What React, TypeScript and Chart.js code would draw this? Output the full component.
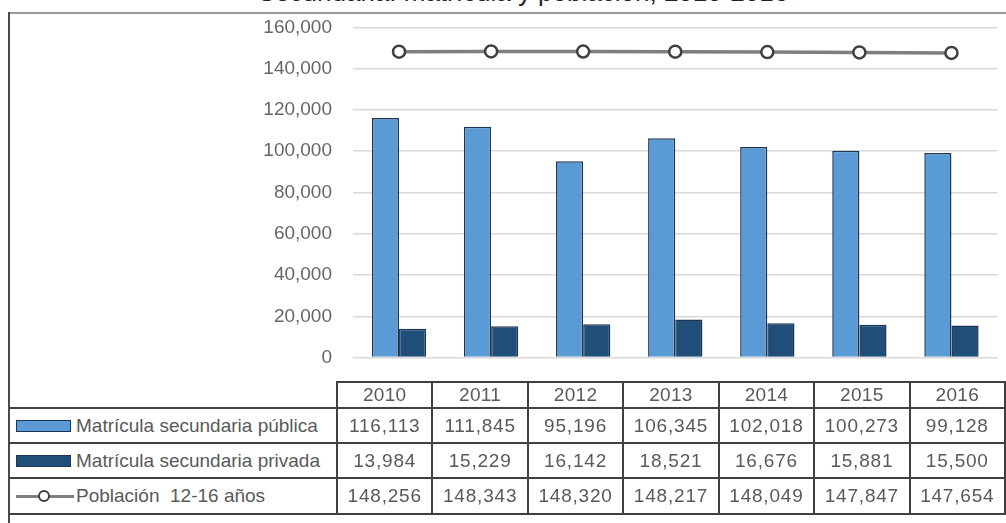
import React, { useEffect, useRef } from "react";
import { Chart, registerables } from "chart.js";

Chart.register(...registerables);

const years = ["2010", "2011", "2012", "2013", "2014", "2015", "2016"];
const publica = [116113, 111845, 95196, 106345, 102018, 100273, 99128];
const privada = [13984, 15229, 16142, 18521, 16676, 15881, 15500];
const poblacion = [148256, 148343, 148320, 148217, 148049, 147847, 147654];
const seriesLabels = [
  "Matrícula secundaria pública",
  "Matrícula secundaria privada",
  "Población  12-16 años",
];
const yMax = 160000;
const yStep = 20000;
const titleText = "Secundaria: matrícula y población, 2010-2016";

const C_PUB = "#5b9bd5";
const C_PRIV = "#1f4e79";
const C_BAR_BORDER = "#1d3553";
const C_LINE = "#7f7f7f";
const C_POINT = "#404040";
const FONT = "'Liberation Sans', Arial, sans-serif";
const TXT = "#595959";
const GRID_DARK = "#404040";

const fmt = (v: number) => v.toLocaleString("en-US");

export default function App() {
  const ref = useRef<HTMLCanvasElement>(null);

  useEffect(() => {
    const chart = new Chart(ref.current!, {
      type: "bar",
      data: {
        labels: years,
        datasets: [
          {
            type: "line" as const,
            label: seriesLabels[2],
            data: poblacion,
            borderColor: C_LINE,
            borderWidth: 3.5,
            tension: 0,
            pointRadius: 6,
            pointBackgroundColor: "#ffffff",
            pointBorderColor: C_POINT,
            pointBorderWidth: 2.5,
            order: 0,
          } as any,
          {
            label: seriesLabels[0],
            data: publica,
            backgroundColor: C_PUB,
            borderColor: C_BAR_BORDER,
            borderWidth: 1.5,
            categoryPercentage: 0.59,
            barPercentage: 1,
            order: 1,
          },
          {
            label: seriesLabels[1],
            data: privada,
            backgroundColor: C_PRIV,
            borderColor: C_BAR_BORDER,
            borderWidth: 1.5,
            categoryPercentage: 0.59,
            barPercentage: 1,
            order: 1,
          },
        ],
      },
      options: {
        animation: false,
        responsive: false,
        maintainAspectRatio: false,
        layout: { padding: { left: 262, top: 27, bottom: 23, right: 0 } },
        plugins: { legend: { display: false }, tooltip: { enabled: false } },
        scales: {
          x: { display: false },
          y: {
            min: 0,
            max: yMax,
            ticks: {
              stepSize: yStep,
              padding: 21,
              color: "#666666",
              font: { family: FONT, size: 19 },
              callback: (v: any) => fmt(Number(v)),
            },
            grid: { color: "#d9d9d9", drawTicks: false, lineWidth: 1.5 },
            border: { display: false },
            afterFit: (s: any) => {
              s.width = 91;
            },
          },
        },
      },
    });
    return () => chart.destroy();
  }, []);

  const colLeft = 337;
  const colRight = 1005;
  const colW = (colRight - colLeft) / years.length;
  const rowEdges = [382, 408, 443, 478, 514];
  const rows = [publica, privada, poblacion];

  const hLine = (y: number, x1: number, x2: number, key: string) => (
    <div
      key={key}
      style={{ position: "absolute", left: x1, top: y - 1, width: x2 - x1, height: 2, background: GRID_DARK }}
    />
  );
  const vLine = (x: number, y1: number, y2: number, key: string) => (
    <div
      key={key}
      style={{ position: "absolute", left: x - 1, top: y1, width: 2, height: y2 - y1, background: GRID_DARK }}
    />
  );

  const lines: React.ReactNode[] = [];
  lines.push(hLine(rowEdges[0], colLeft, colRight + 1, "h0"));
  for (let i = 1; i < rowEdges.length; i++) lines.push(hLine(rowEdges[i], 9, colRight + 1, "h" + i));
  for (let i = 0; i <= years.length; i++)
    lines.push(vLine(colLeft + i * colW, rowEdges[0] - 1, rowEdges[4] + 1, "v" + i));

  const cellText = (
    text: string,
    x: number,
    w: number,
    y1: number,
    y2: number,
    key: string,
    align: "center" | "left" = "center",
    ls = 0
  ) => (
    <div
      key={key}
      style={{
        position: "absolute",
        left: x,
        top: y1,
        width: w,
        height: y2 - y1,
        display: "flex",
        alignItems: "center",
        justifyContent: align === "center" ? "center" : "flex-start",
        fontFamily: FONT,
        fontSize: 19,
        color: TXT,
        letterSpacing: ls,
        whiteSpace: "pre",
      }}
    >
      {text}
    </div>
  );

  const texts: React.ReactNode[] = [];
  years.forEach((yr, i) =>
    texts.push(cellText(yr, colLeft + i * colW, colW, rowEdges[0], rowEdges[1], "yr" + i, "center", 0.3))
  );
  rows.forEach((r, ri) =>
    r.forEach((v, i) =>
      texts.push(
        cellText(fmt(v), colLeft + i * colW, colW, rowEdges[ri + 1], rowEdges[ri + 2], `c${ri}_${i}`, "center", 0.8)
      )
    )
  );
  seriesLabels.forEach((lab, ri) =>
    texts.push(cellText(lab, 76, 260, rowEdges[ri + 1], rowEdges[ri + 2], "lab" + ri, "left"))
  );

  const swatchY = (ri: number) => (rowEdges[ri + 1] + rowEdges[ri + 2]) / 2;

  return (
    <div style={{ position: "fixed", left: 0, top: 0, width: 1006, height: 523, background: "#fff", overflow: "hidden" }}>
      <div
        style={{
          position: "absolute",
          left: 0,
          width: 1006,
          top: -21,
          textAlign: "center",
          fontFamily: FONT,
          fontSize: 26,
          lineHeight: "26px",
          color: "#222",
          paddingLeft: 40,
          boxSizing: "border-box",
        }}
      >
        {titleText}
      </div>
      <div style={{ position: "absolute", left: 8, top: 12, width: 998, height: 2, background: "#9a9a9a" }} />
      <div style={{ position: "absolute", left: 8, top: 12, width: 2, height: 511, background: "#4a4a4a" }} />
      <canvas
        ref={ref}
        width={1006}
        height={395}
        style={{ position: "absolute", left: 0, top: -5, width: 1006, height: 395 }}
      />
      {lines}
      {texts}
      <div
        style={{
          position: "absolute",
          left: 16,
          top: swatchY(0) - 6,
          width: 55,
          height: 12,
          background: C_PUB,
          border: `1.5px solid ${C_BAR_BORDER}`,
          boxSizing: "border-box",
        }}
      />
      <div
        style={{
          position: "absolute",
          left: 16,
          top: swatchY(1) - 6,
          width: 55,
          height: 12,
          background: C_PRIV,
          border: `1.5px solid ${C_BAR_BORDER}`,
          boxSizing: "border-box",
        }}
      />
      <div style={{ position: "absolute", left: 16, top: swatchY(2) - 1.5, width: 58, height: 3, background: C_LINE }} />
      <div
        style={{
          position: "absolute",
          left: 38,
          top: swatchY(2) - 6,
          width: 12,
          height: 12,
          borderRadius: "50%",
          background: "#fff",
          border: `2.5px solid ${C_POINT}`,
          boxSizing: "border-box",
        }}
      />
    </div>
  );
}
